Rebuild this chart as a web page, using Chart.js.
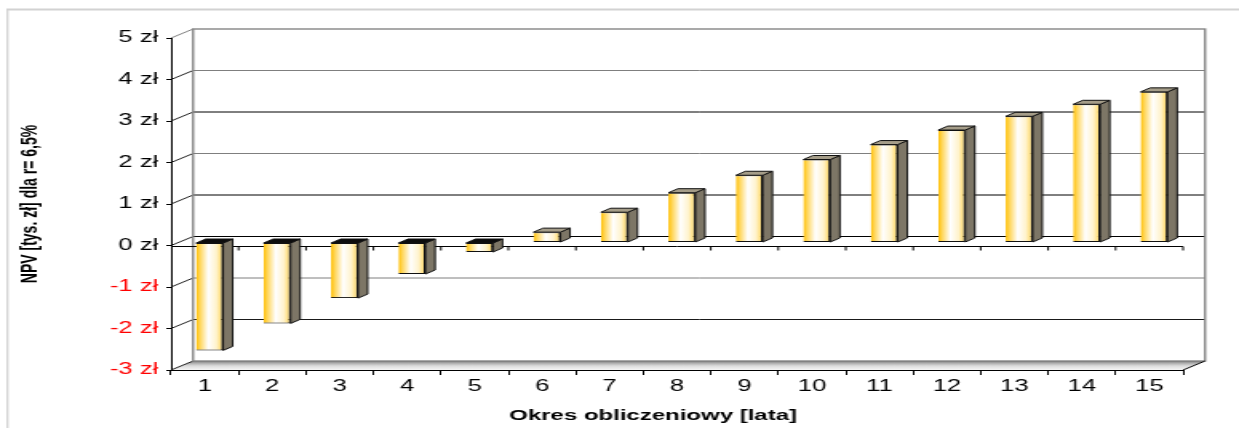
<!DOCTYPE html>
<html>
<head>
<meta charset="utf-8">
<script src="https://cdn.jsdelivr.net/npm/chart.js@4.4.1/dist/chart.umd.min.js"></script>
<style>
    html, body { margin: 0; padding: 0; background: #fff; }
</style>
</head>
<body>
<!-- the original picture is a horizontally stretched export, so the canvas is drawn narrow and stretched by CSS -->
<canvas id="npvChart" width="775" height="428" style="display:block;width:1239px;height:428px"></canvas>
<script>
// Data
const years = ['1', '2', '3', '4', '5', '6', '7', '8', '9', '10', '11', '12', '13', '14', '15'];
const npvValues = [-2.6, -1.95, -1.34, -0.76, -0.23, 0.25, 0.73, 1.2, 1.62, 2.0, 2.36, 2.71, 3.04, 3.33, 3.63];
const yMin = -3;
const yMax = 5;
const yStep = 1;
const xTitle = 'Okres obliczeniowy [lata]';
const yTitle = 'NPV [tys. zł] dla r= 6,5%';

// Fake 3D look
const WALL_DX = 13.75, WALL_DY = -9;   // back wall offset
const BAR_DX = 3, BAR_DY = -3;         // bars sit a bit into the depth
const SIDE_DX = 6, SIDE_DY = -4;       // bar depth
const FONT = "'Liberation Sans', Arial, sans-serif";

const backdrop = {
    id: 'backdrop',
    beforeDraw(chart) {
        const ctx = chart.ctx;
        const { left, right, top, bottom } = chart.chartArea;
        const ya = chart.scales.y;
        const xa = chart.scales.x;
        ctx.save();

        // outer frame
        ctx.strokeStyle = '#d2d2d2';
        ctx.lineWidth = 2;
        ctx.beginPath();
        ctx.moveTo(4, 9.5);
        ctx.lineTo(chart.width, 9.5);
        ctx.stroke();
        ctx.lineWidth = 1.3;
        ctx.beginPath();
        ctx.moveTo(4.7, 9);
        ctx.lineTo(4.7, chart.height);
        ctx.stroke();

        // floor
        const floor = ctx.createLinearGradient(0, bottom + WALL_DY, 0, bottom);
        floor.addColorStop(0, '#6e6e6e');
        floor.addColorStop(0.2, '#a8a8a8');
        floor.addColorStop(0.55, '#dcdcdc');
        floor.addColorStop(1, '#f6f6f6');
        ctx.fillStyle = floor;
        ctx.beginPath();
        ctx.moveTo(left, bottom);
        ctx.lineTo(left + WALL_DX, bottom + WALL_DY);
        ctx.lineTo(right + WALL_DX, bottom + WALL_DY);
        ctx.lineTo(right, bottom);
        ctx.closePath();
        ctx.fill();

        // back wall gridlines + connectors to the front axis
        const gridColors = ['#000000', '#1a1a1a', '#7f7f7f', '#000000', '#000000', '#7f7f7f', '#000000', '#7f7f7f', '#808080'];
        for (let v = yMin, i = 0; v <= yMax; v += yStep, i++) {
            const y = ya.getPixelForValue(v);
            ctx.lineWidth = 1;
            ctx.strokeStyle = '#202020';
            if (v === yMax) ctx.strokeStyle = '#7f7f7f';
            ctx.beginPath();
            ctx.moveTo(left, y);
            ctx.lineTo(left + WALL_DX, y + WALL_DY);
            ctx.stroke();
            if (v > yMin && v < yMax) {
                ctx.strokeStyle = gridColors[i];
                ctx.beginPath();
                ctx.moveTo(left + WALL_DX, y + WALL_DY);
                ctx.lineTo(right + WALL_DX, y + WALL_DY);
                ctx.stroke();
            }
        }

        // wall frame
        ctx.strokeStyle = '#858585';
        ctx.lineWidth = 1.4;
        ctx.strokeRect(left + WALL_DX, top + WALL_DY, right - left, bottom - top);

        // right floor edge
        ctx.strokeStyle = '#000';
        ctx.lineWidth = 1;
        ctx.beginPath();
        ctx.moveTo(right, bottom);
        ctx.lineTo(right + WALL_DX, bottom + WALL_DY);
        ctx.stroke();

        // zero line at the front with its category ticks
        const y0 = Math.round(ya.getPixelForValue(0)) + 0.5;
        ctx.beginPath();
        ctx.moveTo(left, y0);
        ctx.lineTo(right, y0);
        const step = xa.width / years.length;
        for (let i = 1; i <= years.length; i++) {
            ctx.moveTo(left + i * step, y0);
            ctx.lineTo(left + i * step, y0 + 4);
        }
        ctx.stroke();

        ctx.restore();
    },
    beforeDatasetsDraw(chart) {
        chart.ctx.save();
        chart.ctx.translate(BAR_DX, BAR_DY);
    },
    afterDatasetsDraw(chart) {
        const ctx = chart.ctx;
        const meta = chart.getDatasetMeta(0);
        ctx.lineWidth = 1;
        ctx.strokeStyle = '#111';
        meta.data.forEach((bar, i) => {
            const l = bar.x - bar.width / 2;
            const r = bar.x + bar.width / 2;
            const t = Math.min(bar.y, bar.base);
            const b = Math.max(bar.y, bar.base);
            // side face
            ctx.fillStyle = '#7d7666';
            ctx.beginPath();
            ctx.moveTo(r, t);
            ctx.lineTo(r + SIDE_DX, t + SIDE_DY);
            ctx.lineTo(r + SIDE_DX, b + SIDE_DY);
            ctx.lineTo(r, b);
            ctx.closePath();
            ctx.fill();
            ctx.stroke();
            // top face
            ctx.fillStyle = npvValues[i] < 0 ? '#0c0c0c' : '#a59d89';
            ctx.beginPath();
            ctx.moveTo(l, t);
            ctx.lineTo(l + SIDE_DX, t + SIDE_DY);
            ctx.lineTo(r + SIDE_DX, t + SIDE_DY);
            ctx.lineTo(r, t);
            ctx.closePath();
            ctx.fill();
            ctx.stroke();
        });
        ctx.restore();
    },
    afterDraw(chart) {
        // x axis title sits a little left of centre in the original
        const ctx = chart.ctx;
        const { left, right } = chart.chartArea;
        ctx.save();
        ctx.font = 'bold 15px ' + FONT;
        ctx.fillStyle = '#000';
        ctx.textAlign = 'center';
        ctx.textBaseline = 'middle';
        ctx.fillText(xTitle, (left + right) / 2 - 15, chart.height - 12);
        ctx.restore();
    }
};

const barPct = 0.4;

const ctx = document.getElementById('npvChart').getContext('2d');
const npvChart = new Chart(ctx, {
    type: 'bar',
    data: {
        labels: years,
        datasets: [{
            data: npvValues,
            backgroundColor: function(c) {
                const xa = c.chart.scales.x;
                if (c.type !== 'data' || !xa || !(xa.width > 0)) return '#FFE08A';
                const cx = xa.getPixelForValue(c.dataIndex);
                const half = xa.width / years.length * barPct / 2;
                if (!isFinite(cx) || !isFinite(half)) return '#FFE08A';
                const g = c.chart.ctx.createLinearGradient(cx - half, 0, cx + half, 0);
                g.addColorStop(0, '#FFBE00');
                g.addColorStop(0.12, '#FFD34D');
                g.addColorStop(0.45, '#FFFFFF');
                g.addColorStop(0.75, '#FFF3CC');
                g.addColorStop(1, '#FFD24A');
                return g;
            },
            borderColor: '#111',
            borderWidth: { top: 1, right: 1.2, bottom: 1, left: 0 },
            borderSkipped: false,
            barPercentage: barPct,
            categoryPercentage: 1,
            clip: false
        }]
    },
    options: {
        responsive: false,
        animation: false,
        events: [],
        layout: {
            padding: { left: 7, right: 35, top: 38, bottom: 0 }
        },
        plugins: {
            legend: { display: false },
            tooltip: { enabled: false }
        },
        scales: {
            x: {
                grid: {
                    drawOnChartArea: false,
                    color: '#000',
                    tickLength: 5,
                    offset: true
                },
                border: { color: '#000', width: 1 },
                ticks: {
                    color: '#000',
                    padding: 2,
                    font: { family: FONT, size: 16 }
                },
                afterFit: function(scale) {
                    scale.height = 58;
                }
            },
            y: {
                min: yMin,
                max: yMax,
                grid: {
                    drawOnChartArea: false,
                    color: '#000',
                    tickLength: 3
                },
                border: { color: '#000', width: 1 },
                ticks: {
                    stepSize: yStep,
                    padding: 5,
                    font: { family: FONT, size: 16 },
                    color: function(c) {
                        return c.tick && c.tick.value < 0 ? '#FF0000' : '#000000';
                    },
                    callback: function(value) {
                        return value + ' zł';
                    }
                },
                title: {
                    display: true,
                    text: yTitle,
                    color: '#000',
                    font: { family: FONT, size: 14, weight: 'bold' },
                    padding: { top: 4, bottom: 0 }
                },
                afterFit: function(scale) {
                    scale.width = 100;
                }
            }
        }
    },
    plugins: [backdrop]
});
</script>
</body>
</html>
